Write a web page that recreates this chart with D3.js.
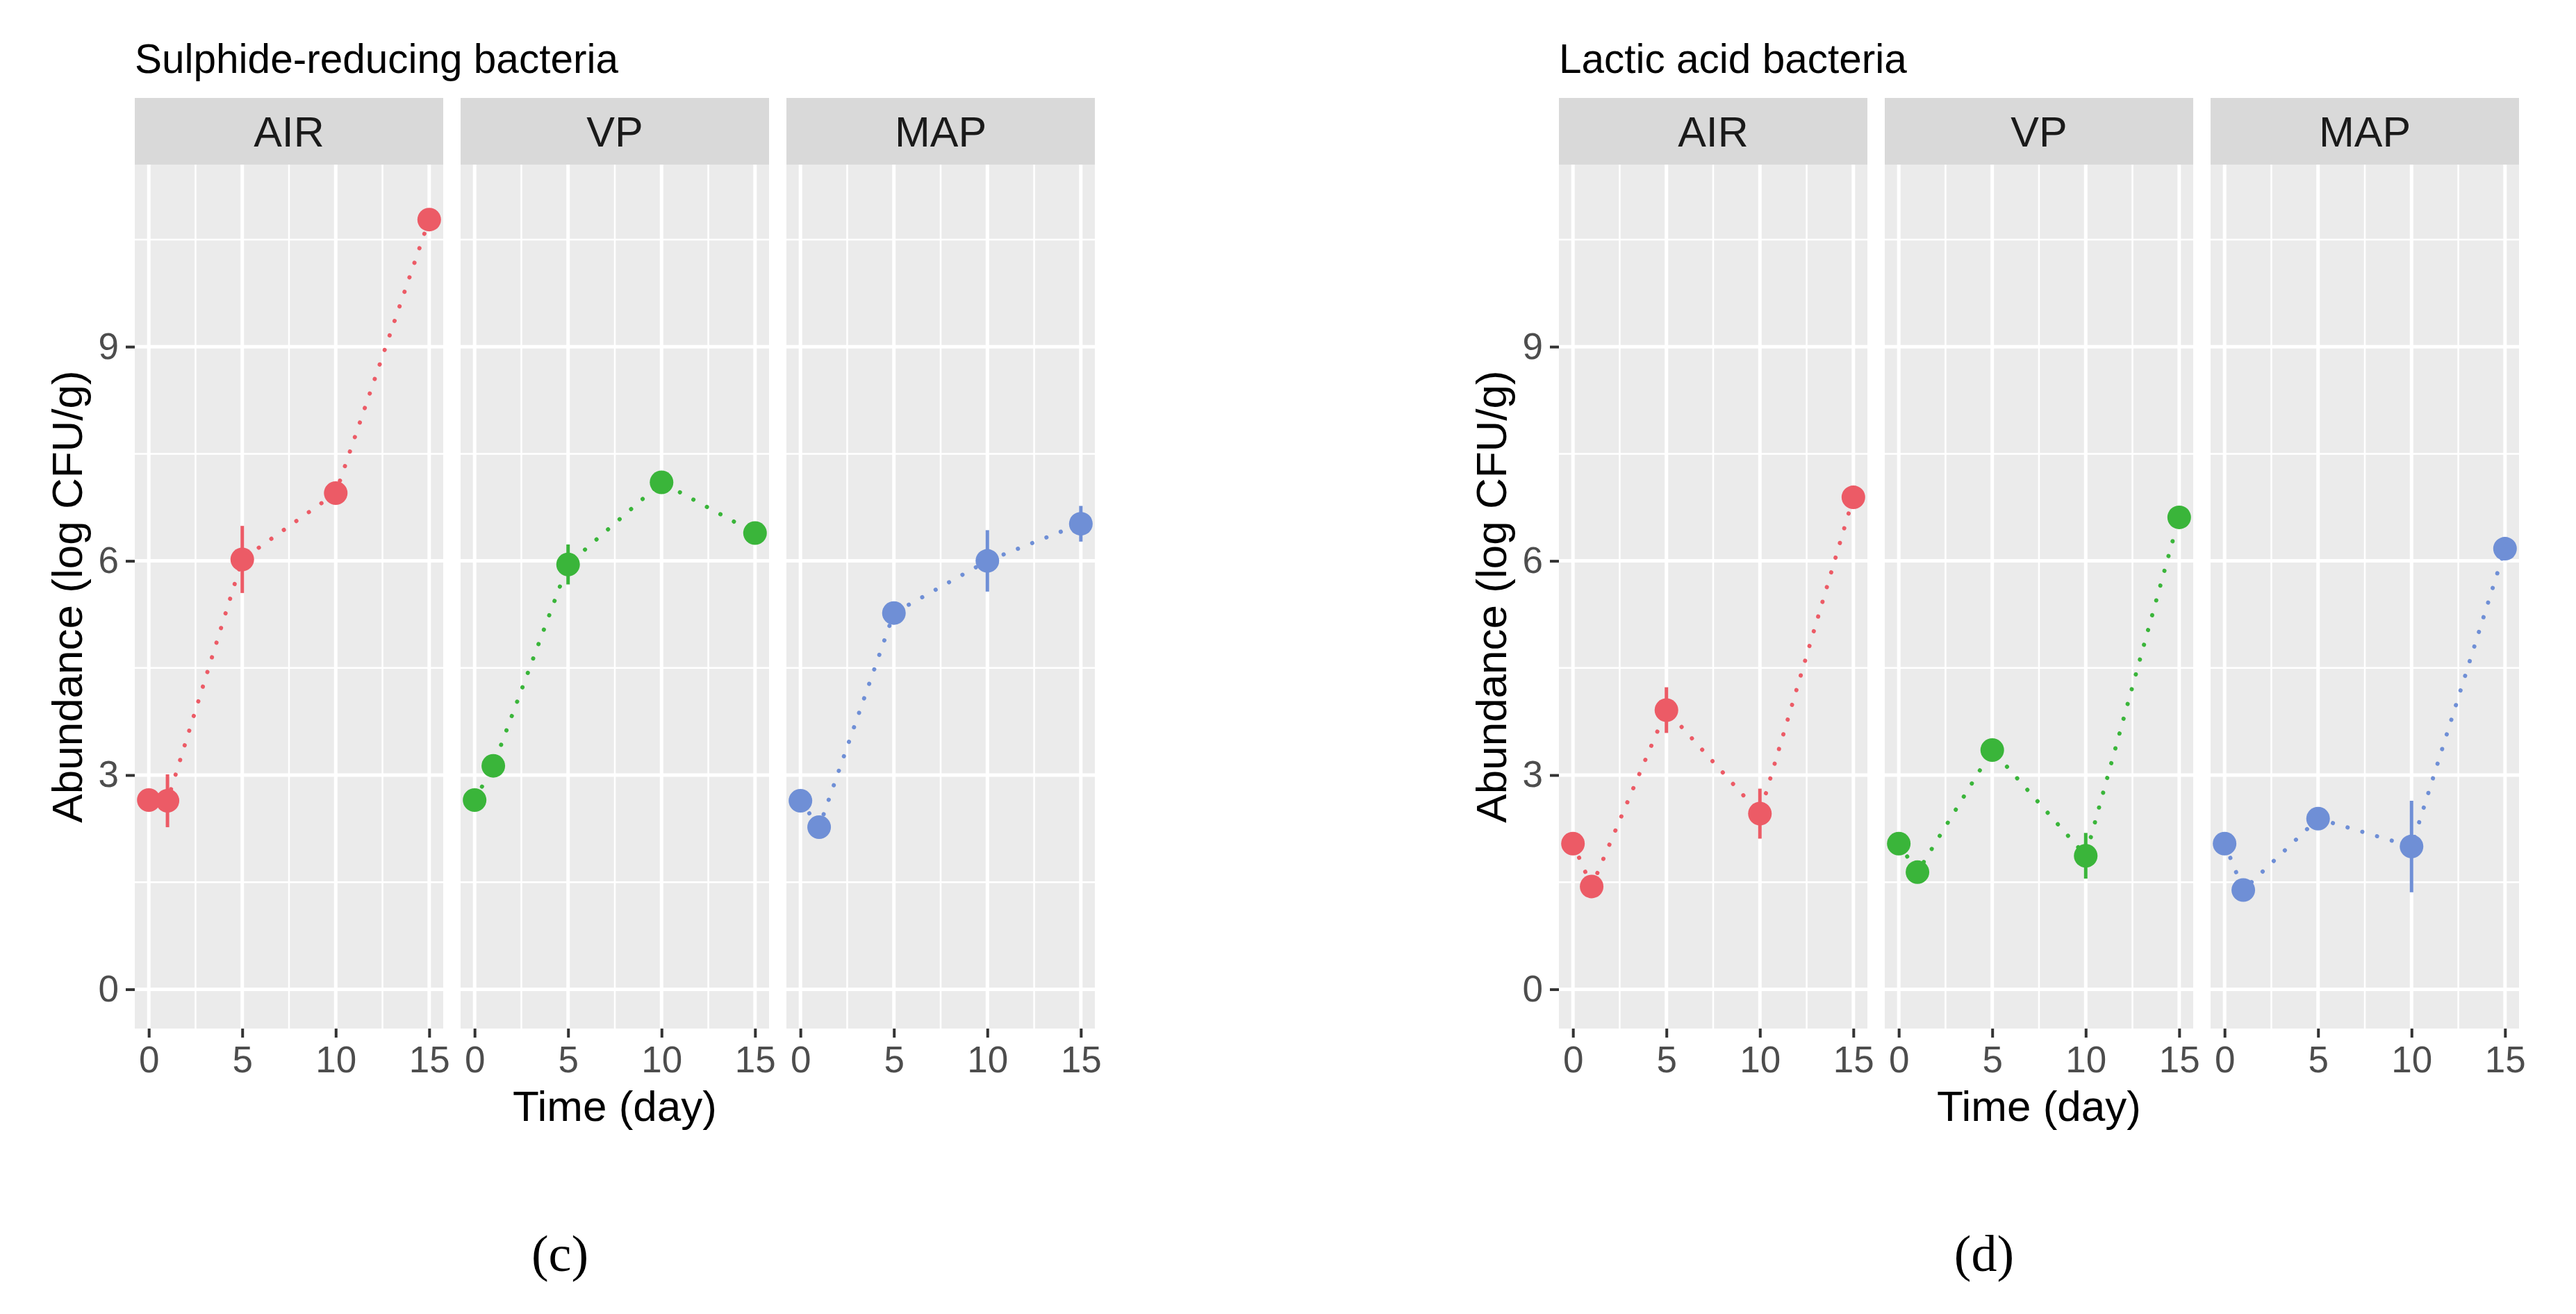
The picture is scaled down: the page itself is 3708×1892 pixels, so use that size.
<!DOCTYPE html>
<meta charset="utf-8">
<head>
<script src="https://d3js.org/d3.v7.min.js"></script>
<style>
  body { margin: 0; background: #fff; }
  text { font-family: "Liberation Sans", Arial, sans-serif; }
  .tick text { fill: #4d4d4d; font-size: 53px; }
  .tick line { stroke: #333333; stroke-width: 4; }
  .strip text { fill: #1a1a1a; font-size: 61px; }
  .caption { font-family: "Liberation Serif", "Times New Roman", serif; font-size: 74px; fill: #000; }
</style>
</head>
<body>
<svg width="3708" height="1892"></svg>
<script>

// data: mean and spread for each storage condition
var days = [0, 1, 5, 10, 15];
var groups = ["AIR", "VP", "MAP"];
var xTicks = [0, 5, 10, 15];
var xMinor = [2.5, 7.5, 12.5];
var yTicks = [0, 3, 6, 9];
var yMinor = [1.5, 4.5, 7.5, 10.5];
var titles = ["Sulphide-reducing bacteria", "Lactic acid bacteria"];
var captions = ["(c)", "(d)"];

var srbAir = [2.65, 2.64, 6.02, 6.95, 10.78];
var srbAirSd = [0.05, 0.37, 0.47, 0.08, 0.05];
var srbVp = [2.65, 3.13, 5.95, 7.1, 6.39];
var srbVpSd = [0.05, 0.06, 0.28, 0.08, 0.1];
var srbMap = [2.64, 2.27, 5.27, 6.0, 6.52];
var srbMapSd = [0.05, 0.05, 0.06, 0.43, 0.25];

var labAir = [2.04, 1.44, 3.91, 2.46, 6.89];
var labAirSd = [0.05, 0.05, 0.32, 0.35, 0.08];
var labVp = [2.04, 1.64, 3.35, 1.87, 6.61];
var labVpSd = [0.05, 0.05, 0.1, 0.32, 0.15];
var labMap = [2.04, 1.39, 2.39, 2.0, 6.17];
var labMapSd = [0.05, 0.05, 0.05, 0.64, 0.05];

var colors = { AIR: "#ec5b66", VP: "#3ab53a", MAP: "#6f8fd6" };

var charts = [
    { title: titles[0], caption: captions[0],
      means: [srbAir, srbVp, srbMap], sds: [srbAirSd, srbVpSd, srbMapSd] },
    { title: titles[1], caption: captions[1],
      means: [labAir, labVp, labMap], sds: [labAirSd, labVpSd, labMapSd] }
];

var svg = d3.select("svg"),
    chartOffset = 2050,
    panelLeft = 194,
    panelW = 444,
    panelGap = 25,
    stripTop = 141,
    panelTop = 237,
    panelBottom = 1481;

var x = d3.scaleLinear().domain([-0.75, 15.75]).range([0, panelW]);
var y = d3.scaleLinear().domain([-0.55, 11.55]).range([panelBottom, panelTop]);

var line = d3.line()
    .x(function(d) { return x(d.day); })
    .y(function(d) { return y(d.mean); });

charts.forEach(function(chart, ci) {
    var g = svg.append("g").attr("transform", "translate(" + (ci * chartOffset) + ",0)");

    g.append("text")
        .attr("x", panelLeft)
        .attr("y", 105)
        .attr("font-size", "58.5px")
        .attr("fill", "#000")
        .text(chart.title);

    // y axis on the left of the first panel
    var yAxis = g.append("g")
        .attr("transform", "translate(" + panelLeft + ",0)")
        .call(d3.axisLeft(y).tickValues(yTicks).tickSize(13).tickPadding(10));
    yAxis.select(".domain").remove();

    g.append("text")
        .attr("transform", "translate(118," + ((panelTop + panelBottom) / 2) + ") rotate(-90)")
        .attr("text-anchor", "middle")
        .attr("font-size", "62px")
        .attr("fill", "#000")
        .text("Abundance (log CFU/g)");

    groups.forEach(function(grp, gi) {
        var px = panelLeft + gi * (panelW + panelGap);
        var p = g.append("g").attr("transform", "translate(" + px + ",0)");

        // strip
        var strip = p.append("g").attr("class", "strip");
        strip.append("rect")
            .attr("y", stripTop)
            .attr("width", panelW)
            .attr("height", panelTop - stripTop)
            .attr("fill", "#d9d9d9");
        strip.append("text")
            .attr("x", panelW / 2)
            .attr("y", 211)
            .attr("text-anchor", "middle")
            .text(grp);

        // panel background and grid
        p.append("rect")
            .attr("y", panelTop)
            .attr("width", panelW)
            .attr("height", panelBottom - panelTop)
            .attr("fill", "#ebebeb");

        p.selectAll(".ymin").data(yMinor).enter().append("line")
            .attr("x1", 0).attr("x2", panelW)
            .attr("y1", function(d) { return y(d); })
            .attr("y2", function(d) { return y(d); })
            .attr("stroke", "#fff").attr("stroke-width", 2.5);
        p.selectAll(".xmin").data(xMinor).enter().append("line")
            .attr("y1", panelTop).attr("y2", panelBottom)
            .attr("x1", function(d) { return x(d); })
            .attr("x2", function(d) { return x(d); })
            .attr("stroke", "#fff").attr("stroke-width", 2.5);
        p.selectAll(".ymaj").data(yTicks).enter().append("line")
            .attr("x1", 0).attr("x2", panelW)
            .attr("y1", function(d) { return y(d); })
            .attr("y2", function(d) { return y(d); })
            .attr("stroke", "#fff").attr("stroke-width", 5);
        p.selectAll(".xmaj").data(xTicks).enter().append("line")
            .attr("y1", panelTop).attr("y2", panelBottom)
            .attr("x1", function(d) { return x(d); })
            .attr("x2", function(d) { return x(d); })
            .attr("stroke", "#fff").attr("stroke-width", 5);

        // x axis
        var xAxis = p.append("g")
            .attr("transform", "translate(0," + panelBottom + ")")
            .call(d3.axisBottom(x).tickValues(xTicks).tickSize(13).tickPadding(12));
        xAxis.select(".domain").remove();

        var pts = days.map(function(d, i) {
            return { day: d, mean: chart.means[gi][i], sd: chart.sds[gi][i] };
        });

        p.append("path")
            .datum(pts)
            .attr("d", line)
            .attr("fill", "none")
            .attr("stroke", colors[grp])
            .attr("stroke-width", 6)
            .attr("stroke-linecap", "round")
            .attr("stroke-dasharray", "0.1 22");

        p.selectAll(".err").data(pts).enter().append("line")
            .attr("x1", function(d) { return x(d.day); })
            .attr("x2", function(d) { return x(d.day); })
            .attr("y1", function(d) { return y(d.mean - d.sd); })
            .attr("y2", function(d) { return y(d.mean + d.sd); })
            .attr("stroke", colors[grp])
            .attr("stroke-width", 5);

        p.selectAll(".pt").data(pts).enter().append("circle")
            .attr("cx", function(d) { return x(d.day); })
            .attr("cy", function(d) { return y(d.mean); })
            .attr("r", 17)
            .attr("fill", colors[grp]);
    });

    g.append("text")
        .attr("x", panelLeft + (3 * panelW + 2 * panelGap) / 2)
        .attr("y", 1614)
        .attr("text-anchor", "middle")
        .attr("font-size", "62px")
        .attr("fill", "#000")
        .text("Time (day)");

    g.append("text")
        .attr("class", "caption")
        .attr("x", 806)
        .attr("y", 1830)
        .attr("text-anchor", "middle")
        .text(chart.caption);
});

</script>
</body>
